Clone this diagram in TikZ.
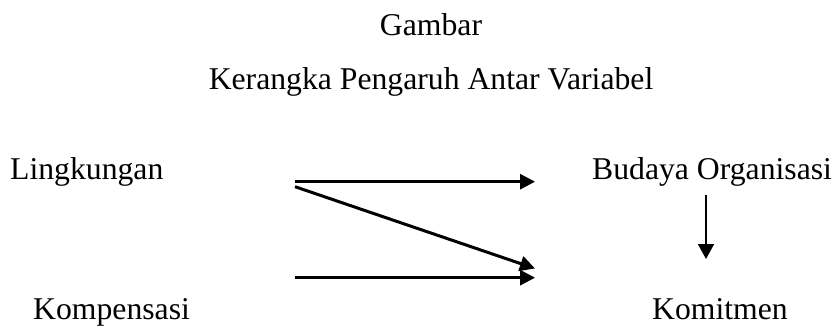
\documentclass[tikz,border=0pt]{standalone}
\usepackage{fontspec}
\setmainfont{Liberation Serif}
\usetikzlibrary{arrows.meta}
\begin{document}
\begin{tikzpicture}[x=1pt,y=-1pt,
  lbl/.style={inner sep=0pt,anchor=base west,font=\fontsize{31.7}{38}\selectfont},
  ttl/.style={inner sep=0pt,anchor=base,font=\fontsize{31.7}{38}\selectfont},
  thickarrow/.style={line width=3pt,-{Triangle[length=15pt,width=15pt]}},
  thinarrow/.style={line width=1.8pt,-{Triangle[length=15pt,width=16pt]}}]
\useasboundingbox (0,0) rectangle (832,326);
\node[ttl] (gambar) at (431,35.5) {Gambar};
\node[ttl] (judul) at (431,90) {Kerangka Pengaruh Antar Variabel};
\node[lbl] (ling) at (10,179) {Lingkungan};
\node[lbl] (budaya) at (592,179) {Budaya Organisasi};
\node[lbl] (komp) at (33,319) {Kompensasi};
\node[lbl] (komit) at (652,319) {Komitmen};
\coordinate (a1s) at (295,181.7);
\coordinate (a1e) at (535,181.7);
\coordinate (a2s) at (295,186.7);
\coordinate (a2e) at (535,268.5);
\coordinate (a3s) at (295,277.7);
\coordinate (a3e) at (535,277.7);
\coordinate (vs) at (706,195);
\coordinate (ve) at (706,259);
\draw[thickarrow] (a1s) -- (a1e);
\draw[thickarrow] (a2s) -- (a2e);
\draw[thickarrow] (a3s) -- (a3e);
\draw[thinarrow] (vs) -- (ve);
\end{tikzpicture}
\end{document}
